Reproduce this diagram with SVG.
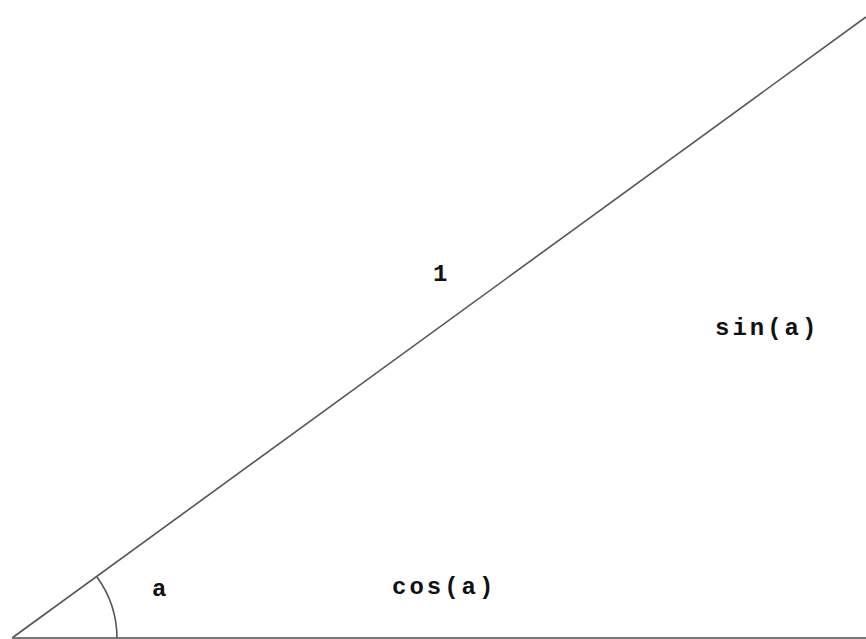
<svg xmlns="http://www.w3.org/2000/svg" width="866" height="639" viewBox="0 0 866 639">
<style>
.ln{stroke:#555;stroke-width:1.6;fill:none}
.lb{font-family:"Liberation Mono","DejaVu Sans Mono",monospace;font-size:24px;font-weight:bold;fill:#111;letter-spacing:3px}
</style>
<rect width="866" height="639" fill="#fff"/>
<g id="connectors">
<line class="ln" x1="12" y1="638" x2="866" y2="17"/>
<line class="ln" x1="12" y1="638" x2="866" y2="638" style="stroke:#777;stroke-width:2"/>
<path class="ln" d="M 97 577 A 105 105 0 0 1 117 638"/>
</g>
<g id="label-a"><text class="lb" x="152" y="596">a</text></g>
<g id="label-cos"><text class="lb" x="392" y="594">cos(a)</text></g>
<g id="label-1"><text class="lb" x="433" y="281">1</text></g>
<g id="label-sin"><text class="lb" x="715" y="335">sin(a)</text></g>
</svg>
